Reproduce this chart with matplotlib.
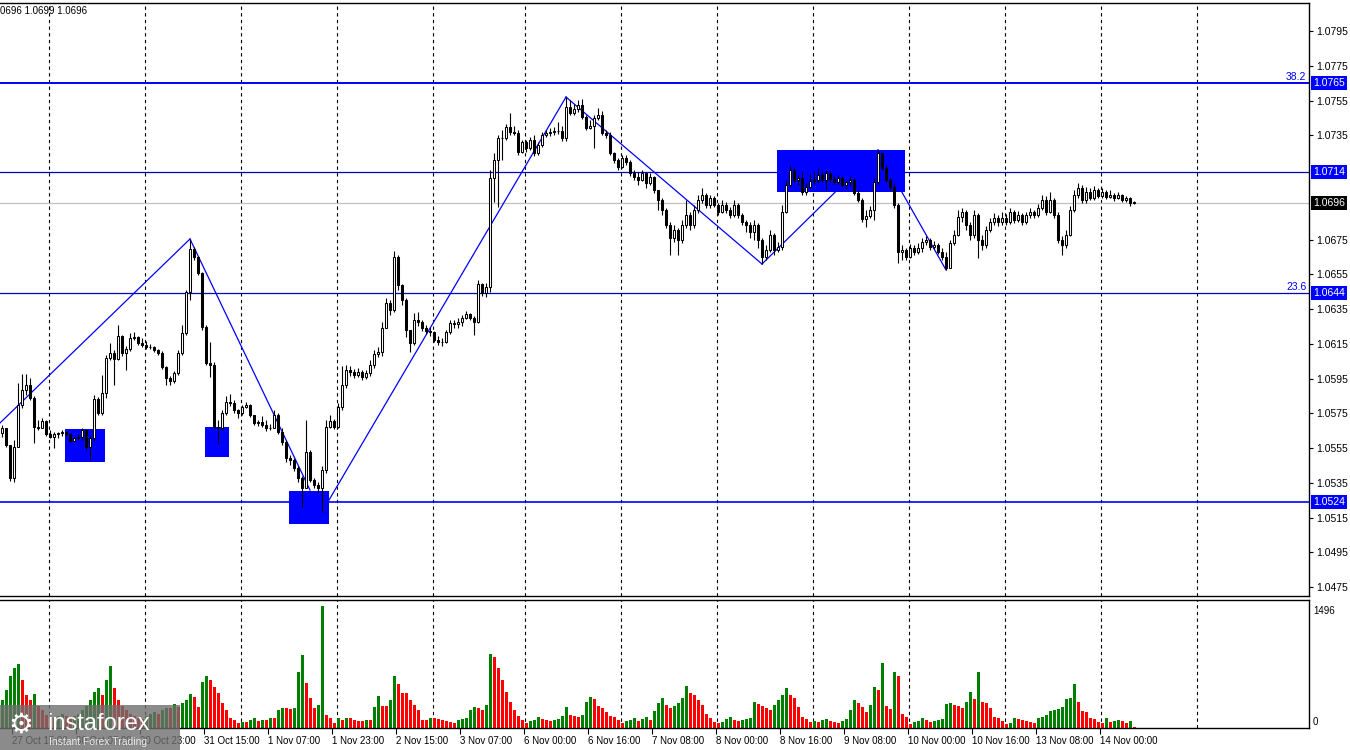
import numpy as np
import matplotlib.pyplot as plt
from matplotlib.patches import Rectangle
from matplotlib.transforms import blended_transform_factory

plt.rcParams['font.family'] = ['Liberation Sans', 'DejaVu Sans']

# EURUSD H1 candles, prices in pips above 1.0000 (556.8 -> 1.05568)
first_open = 563.6
close_pips = [
    566.5, 556.8, 537.7, 555.6, 579.8, 588.4, 591.3, 583.8, 567.1, 566.5,
    570.6, 563.1, 561.4, 563.1, 563.6, 564.2, 563.1, 559.1, 560.8, 561.4,
    565.4, 555.6, 560.8, 583.2, 575.2, 586.7, 606.8, 609.7, 606.2, 619.5,
    609.7, 612.0, 618.3, 618.9, 615.4, 614.3, 613.1, 613.1, 611.4, 609.7,
    601.6, 595.3, 593.6, 598.2, 609.7, 621.2, 644.8, 669.5, 664.9, 655.7,
    624.7, 603.9, 602.8, 567.1, 566.5, 575.2, 581.5, 580.9, 576.9, 575.2,
    578.6, 579.8, 574.0, 569.4, 570.0, 568.3, 566.5, 566.5, 574.0, 564.2,
    558.5, 549.3, 548.1, 543.5, 537.7, 532.0, 552.7, 536.6, 533.7, 532.0,
    542.3, 567.1, 570.6, 567.1, 578.6, 591.3, 599.9, 598.7, 597.0, 598.7,
    595.9, 598.2, 602.8, 609.1, 610.3, 624.1, 638.5, 634.4, 664.9, 648.8,
    640.2, 622.9, 615.4, 628.7, 627.5, 624.1, 622.4, 621.8, 617.2, 616.0,
    616.0, 621.8, 627.0, 626.4, 627.5, 629.8, 632.1, 629.8, 627.5, 649.4,
    644.2, 647.7, 710.4, 720.8, 733.4, 733.4, 739.8, 736.9, 736.3, 725.4,
    731.1, 727.7, 732.3, 724.8, 729.4, 735.1, 736.3, 736.9, 737.5, 737.5,
    733.4, 751.3, 747.8, 750.1, 752.4, 745.5, 739.2, 740.4, 744.9, 746.7,
    736.3, 735.1, 724.8, 720.8, 716.7, 721.9, 719.6, 713.3, 711.0, 709.3,
    713.3, 707.5, 711.0, 703.5, 697.7, 692.0, 683.4, 675.9, 680.5, 674.7,
    683.4, 689.1, 683.4, 692.0, 697.7, 700.6, 694.9, 698.9, 694.9, 690.8,
    694.9, 692.0, 689.1, 694.9, 689.1, 685.1, 683.4, 679.3, 683.4, 674.7,
    664.9, 669.0, 677.6, 669.0, 670.7, 690.8, 706.4, 715.0, 709.3, 710.4,
    702.3, 705.2, 708.7, 709.3, 712.1, 709.3, 713.3, 709.8, 708.1, 710.4,
    706.4, 708.1, 709.3, 701.8, 697.7, 686.8, 688.5, 692.0, 708.1, 724.8,
    716.2, 709.3, 705.2, 694.9, 667.8, 669.0, 664.9, 670.1, 667.8, 670.1,
    673.6, 674.7, 670.7, 671.8, 667.8, 664.9, 658.6, 673.0, 677.6, 688.0,
    690.8, 683.4, 677.6, 689.1, 674.7, 671.8, 680.5, 685.1, 687.4, 685.1,
    687.4, 685.1, 690.8, 686.2, 689.1, 685.1, 689.1, 690.8, 689.1, 693.1,
    697.7, 690.8, 697.7, 689.1, 674.7, 671.8, 677.6, 692.0, 700.6, 704.6,
    697.7, 702.3, 698.9, 703.5, 700.0, 702.3, 699.4, 700.6, 698.9, 700.6,
    697.7, 698.9, 696.0, 696.6,
]
high_pips = [
    568.3, 566.0, 556.2, 559.6, 592.4, 597.6, 597.6, 595.3, 585.0, 571.1,
    572.3, 571.1, 565.4, 564.2, 564.2, 565.4, 564.8, 563.6, 562.0, 563.1,
    566.5, 565.4, 562.0, 585.5, 584.4, 597.0, 608.5, 615.4, 611.4, 625.8,
    620.1, 613.7, 621.2, 621.8, 619.5, 618.3, 616.6, 614.8, 613.7, 612.0,
    610.8, 602.2, 596.5, 599.3, 611.4, 625.8, 645.9, 675.3, 670.7, 665.5,
    656.3, 625.8, 616.0, 604.5, 571.1, 576.9, 585.0, 586.1, 582.6, 577.5,
    579.8, 581.5, 580.4, 574.0, 571.1, 573.4, 571.1, 568.8, 576.9, 575.2,
    566.5, 559.6, 551.0, 549.3, 544.6, 538.9, 571.1, 553.9, 537.7, 535.4,
    544.6, 571.1, 574.0, 571.7, 580.9, 602.2, 602.8, 602.2, 600.5, 601.0,
    599.9, 599.9, 605.6, 611.4, 613.1, 627.5, 641.3, 640.2, 668.4, 666.1,
    649.4, 641.3, 621.2, 632.7, 633.3, 628.7, 625.8, 624.7, 622.4, 619.5,
    618.3, 622.9, 628.7, 628.7, 629.8, 631.5, 633.8, 632.7, 631.0, 651.7,
    650.0, 650.0, 715.0, 724.8, 735.1, 738.0, 741.5, 747.8, 740.4, 738.0,
    732.3, 732.3, 734.0, 735.1, 731.1, 736.9, 738.0, 739.2, 739.8, 742.6,
    740.4, 757.0, 755.3, 753.0, 755.3, 755.9, 746.7, 743.8, 746.7, 750.7,
    749.0, 738.0, 736.9, 725.4, 721.9, 723.6, 723.6, 720.8, 715.0, 713.9,
    715.0, 712.1, 713.3, 711.6, 703.5, 698.9, 693.1, 685.1, 683.4, 681.6,
    686.2, 697.7, 690.8, 694.9, 700.6, 704.6, 701.8, 700.6, 700.0, 696.0,
    697.7, 696.6, 693.7, 697.7, 696.0, 690.3, 686.2, 685.1, 686.2, 684.5,
    675.9, 671.8, 680.5, 678.7, 673.6, 694.9, 709.3, 717.9, 716.2, 712.1,
    713.9, 707.5, 712.7, 713.9, 716.2, 713.9, 715.0, 713.9, 711.6, 712.1,
    711.6, 709.3, 711.6, 710.4, 703.5, 698.9, 692.0, 694.3, 710.4, 726.5,
    725.4, 717.9, 710.4, 707.5, 696.0, 671.8, 670.1, 672.4, 671.8, 673.0,
    675.9, 677.0, 675.9, 674.1, 673.0, 670.1, 667.8, 674.7, 680.5, 692.0,
    693.1, 692.0, 685.1, 692.0, 690.3, 677.6, 682.8, 687.4, 690.3, 689.1,
    690.8, 689.7, 693.1, 692.0, 691.4, 690.3, 690.8, 693.1, 692.0, 695.4,
    700.6, 700.0, 702.3, 698.9, 690.8, 677.0, 680.5, 694.3, 703.5, 707.5,
    706.4, 705.2, 704.6, 705.8, 704.6, 704.6, 703.5, 703.5, 701.8, 702.3,
    701.2, 700.0, 699.4, 697.2,
]
low_pips = [
    561.4, 555.6, 536.0, 535.4, 556.8, 578.0, 585.5, 582.6, 557.9, 565.4,
    566.5, 562.0, 560.8, 555.0, 560.8, 562.0, 562.0, 558.5, 559.1, 559.6,
    559.6, 554.0, 548.1, 559.1, 574.0, 574.0, 583.8, 605.6, 591.3, 605.6,
    608.0, 599.9, 610.8, 617.2, 614.3, 613.1, 612.0, 612.0, 610.3, 608.5,
    600.5, 591.3, 591.3, 592.4, 597.0, 608.5, 620.1, 640.2, 663.2, 654.6,
    622.9, 602.8, 595.9, 566.5, 557.9, 565.4, 574.0, 579.2, 575.2, 572.3,
    574.0, 578.0, 572.9, 568.3, 567.7, 567.1, 564.8, 565.4, 566.5, 563.1,
    556.8, 547.0, 545.2, 541.8, 535.4, 521.1, 533.0, 535.4, 532.0, 529.7,
    518.2, 540.6, 566.5, 566.0, 566.5, 576.9, 589.5, 596.5, 595.3, 595.9,
    594.2, 594.7, 596.5, 601.0, 607.4, 608.0, 624.1, 631.5, 633.3, 646.0,
    637.3, 618.9, 610.3, 614.3, 625.2, 622.4, 620.6, 619.5, 616.0, 614.3,
    613.7, 615.4, 620.6, 624.1, 624.1, 625.2, 629.2, 628.7, 620.1, 627.0,
    642.5, 641.9, 644.8, 696.6, 693.7, 720.8, 732.3, 735.1, 735.1, 723.6,
    724.8, 725.4, 726.5, 723.0, 723.6, 728.2, 734.0, 734.6, 735.1, 735.7,
    731.7, 731.7, 746.7, 746.7, 748.4, 744.4, 738.0, 738.6, 727.7, 743.8,
    735.1, 733.4, 723.6, 719.0, 715.0, 716.2, 717.9, 711.6, 709.3, 706.4,
    708.7, 704.6, 706.4, 701.8, 692.0, 689.1, 681.6, 666.1, 673.6, 666.1,
    673.0, 681.6, 680.5, 681.6, 690.3, 696.0, 693.1, 693.1, 693.7, 689.1,
    690.0, 690.3, 687.4, 688.0, 687.4, 683.4, 679.3, 675.9, 674.7, 670.1,
    660.9, 663.2, 667.8, 666.1, 667.8, 669.0, 690.3, 705.2, 708.1, 706.4,
    700.6, 700.6, 704.6, 707.0, 707.5, 708.1, 703.5, 708.1, 707.0, 707.0,
    705.2, 704.0, 705.8, 700.6, 696.6, 685.1, 682.2, 687.4, 686.2, 707.0,
    715.0, 707.5, 703.5, 693.1, 661.5, 663.2, 663.2, 664.4, 666.1, 666.7,
    667.8, 671.8, 669.0, 669.5, 666.7, 663.2, 657.5, 662.0, 671.8, 677.0,
    685.1, 680.5, 674.7, 675.9, 664.4, 669.0, 670.1, 679.3, 683.4, 682.8,
    683.4, 683.4, 684.0, 684.5, 685.1, 683.4, 684.0, 687.4, 687.4, 688.0,
    692.0, 689.1, 690.3, 687.4, 673.0, 666.1, 670.1, 677.0, 690.8, 698.9,
    696.0, 696.0, 697.7, 697.7, 698.9, 698.9, 698.3, 698.9, 697.2, 698.3,
    696.6, 696.6, 694.3, 695.4,
]
volume = [
    343, 466, 638, 736, 785, 588, 405, 343, 417, 270,
    221, 159, 135, 123, 147, 172, 147, 123, 147, 172,
    221, 270, 343, 441, 490, 405, 588, 760, 490, 343,
    270, 221, 172, 147, 123, 110, 147, 172, 196, 172,
    221, 245, 245, 294, 257, 306, 343, 417, 380, 257,
    564, 638, 588, 503, 429, 306, 221, 123, 98, 61,
    74, 74, 98, 123, 86, 98, 98, 123, 123, 221,
    245, 245, 233, 245, 687, 895, 552, 368, 245, 282,
    1496, 159, 123, 61, 123, 98, 123, 123, 98, 86,
    86, 98, 98, 257, 392, 270, 270, 343, 638, 539,
    429, 429, 343, 282, 221, 98, 98, 123, 123, 110,
    98, 86, 74, 61, 98, 110, 123, 221, 257, 245,
    221, 282, 907, 870, 736, 588, 441, 319, 221, 147,
    98, 61, 86, 98, 135, 110, 98, 86, 98, 110,
    147, 257, 159, 147, 135, 159, 319, 380, 355, 270,
    245, 196, 147, 135, 98, 61, 86, 98, 123, 86,
    110, 135, 98, 208, 306, 368, 282, 245, 270, 306,
    368, 515, 429, 405, 343, 282, 172, 123, 74, 61,
    74, 110, 135, 98, 86, 98, 110, 123, 319, 294,
    270, 245, 221, 282, 343, 405, 490, 405, 368, 257,
    135, 110, 74, 86, 74, 98, 110, 86, 74, 61,
    86, 110, 221, 343, 306, 257, 196, 282, 503, 466,
    797, 270, 233, 687, 638, 172, 135, 49, 74, 86,
    123, 98, 74, 86, 98, 110, 294, 306, 282, 270,
    245, 319, 441, 355, 687, 319, 306, 245, 135, 123,
    86, 49, 61, 123, 110, 98, 86, 74, 61, 123,
    135, 159, 208, 221, 233, 257, 355, 368, 539, 319,
    208, 196, 123, 110, 74, 61, 123, 74, 86, 98,
    86, 61, 86, 12,
]

time_labels = ['27 Oct 15:00', '30 Oct 07:00', '30 Oct 23:00', '31 Oct 15:00',
               '1 Nov 07:00', '1 Nov 23:00', '2 Nov 15:00', '3 Nov 07:00',
               '6 Nov 00:00', '6 Nov 16:00', '7 Nov 08:00', '8 Nov 00:00',
               '8 Nov 16:00', '9 Nov 08:00', '10 Nov 00:00', '10 Nov 16:00',
               '13 Nov 08:00', '14 Nov 00:00']
time_label_bars = [3, 19, 35, 51, 67, 83, 99, 115, 131, 147, 163, 179,
                   195, 211, 227, 243, 259, 275]
day_start_bars = [12, 36, 60, 84, 108, 131, 155, 179, 203, 227, 251, 275, 299]

price_ticks = [1.0475, 1.0495, 1.0515, 1.0535, 1.0555, 1.0575, 1.0595, 1.0615,
               1.0635, 1.0655, 1.0675, 1.0735, 1.0755, 1.0775, 1.0795]

# horizontal levels: price, colour, width, box colour, fibo text
levels = [
    (1.0765, '#0000ff', 1.4, '#0000ff', '38.2'),
    (1.0714, '#0000c0', 0.9, '#0000ff', ''),
    (1.0696, '#c0c0c0', 0.9, '#000000', ''),
    (1.0644, '#0000c0', 0.9, '#0000ff', '23.6'),
    (1.0524, '#0000ff', 1.2, '#0000ff', ''),
]

# zones: bar from, bar to, price low, price high
zones = [
    (15.75, 25.75, 1.05470, 1.05660),
    (50.75, 56.75, 1.05498, 1.05671),
    (71.75, 81.75, 1.05113, 1.05303),
    (193.75, 225.75, 1.07023, 1.07265),
]

# trend lines between swing points (bar, price)
trend_segments = [
    ((-0.5, 1.05694), (47, 1.06753)),
    ((47, 1.06753), (77, 1.05308)),
    ((80, 1.05182), (141, 1.07570)),
    ((141, 1.07570), (190, 1.06609)),
    ((190, 1.06609), (219, 1.07265)),
    ((219, 1.07265), (236, 1.06575)),
]

closes = 1 + np.array(close_pips) / 10000
highs = 1 + np.array(high_pips) / 10000
lows = 1 + np.array(low_pips) / 10000
opens = np.concatenate([[1 + first_open / 10000], closes[:-1]])
bars = np.arange(len(closes))

W, H = 1350, 750
fig = plt.figure(figsize=(13.5, 7.5), dpi=100)
ax = fig.add_axes([0, 1 - 596 / H, 1309 / W, (596 - 3) / H])
vax = fig.add_axes([0, 1 - 728 / H, 1309 / W, (728 - 600) / H])

for a in (ax, vax):
    a.set_xlim(-0.5, 326.75)
    for s in a.spines.values():
        s.set_color('black')
        s.set_linewidth(1)
    a.spines['left'].set_visible(False)
    for d in day_start_bars:
        a.axvline(d - 0.2, color='black', lw=0.8, ls=(0, (3, 3)), zorder=0.5)

ax.set_ylim(1.046982, 1.081112)

# candles
wick_lo = np.minimum(lows, np.minimum(opens, closes))
wick_hi = np.maximum(highs, np.maximum(opens, closes))
ax.vlines(bars, wick_lo, wick_hi, color='black', lw=0.8, zorder=3)
up = closes >= opens
body_bottom = np.minimum(opens, closes)
body_h = np.abs(closes - opens)
ax.bar(bars, body_h, bottom=body_bottom, width=0.72,
       color=np.where(up, 'white', 'black'), edgecolor='black', lw=0.75, zorder=4)

# zones and trend lines
for b0, b1, p0, p1 in zones:
    ax.add_patch(Rectangle((b0, p0), b1 - b0, p1 - p0, fc='#0000ff', ec='none', zorder=2))
for (b0, p0), (b1, p1) in trend_segments:
    ax.plot([b0, b1], [p0, p1], color='#0000ff', lw=0.9, zorder=1.5)

trans = blended_transform_factory(ax.transAxes, ax.transData)
for price, col, lw, box, fib in levels:
    ax.axhline(price, color=col, lw=lw, zorder=1.2)
    ax.text(1.003, price, f'{price:.4f}', transform=trans, color='white',
            fontsize=7.5, va='center', ha='left', clip_on=False, zorder=10,
            bbox=dict(boxstyle='square,pad=0.18', fc=box, ec='none'))
    if fib:
        ax.text(0.998, price + 0.00008, fib, transform=trans, color='#0000ff',
                fontsize=7.5, va='bottom', ha='right')

ax.yaxis.tick_right()
ax.set_yticks(price_ticks)
ax.set_yticklabels([f'{p:.4f}' for p in price_ticks])
ax.tick_params(axis='y', length=3, width=0.8, pad=2, labelsize=7.5, colors='black')
ax.set_xticks([])

# volumes, green when volume rises against the previous bar
vol = np.array(volume)
rising = np.concatenate([[True], vol[1:] > vol[:-1]])
vax.bar(bars, vol, width=0.75, color=np.where(rising, '#008000', '#ff0000'), zorder=2)
vax.set_ylim(0, 1569)
vax.set_yticks([])
vax.set_xticks([b - 0.5 for b in time_label_bars])
vax.set_xticklabels(time_labels, ha='left')
vax.tick_params(axis='x', length=4, width=0.8, pad=2, labelsize=7, colors='black')
vax.text(1.003, 1496, '1496', transform=blended_transform_factory(vax.transAxes, vax.transData),
         fontsize=7, va='top', ha='left')
vax.text(1.003, 6 / 128, '0', transform=vax.transAxes, fontsize=7, va='center', ha='left')

fig.text(0.0, 1 - 10.5 / H, '0696 1.0699 1.0696', fontsize=7, va='center', ha='left')

# broker watermark
fig.add_artist(Rectangle((0, 0), 180 / W, 45 / H, transform=fig.transFigure,
                         fc='#6e6e6e', ec='none', alpha=0.8, zorder=20))
fig.text(8 / W, 25 / H, '\u2699', color='white', fontsize=20, va='center',
         ha='left', zorder=21, family='DejaVu Sans')
fig.text(47 / W, 26 / H, 'instaforex', color='white', fontsize=17, va='center',
         ha='left', zorder=21)
fig.text(49 / W, 8 / H, 'Instant Forex Trading', color='#e8e8e8', fontsize=7.5,
         va='center', ha='left', zorder=21)

fig.savefig('out.png', dpi=100, facecolor='white')
